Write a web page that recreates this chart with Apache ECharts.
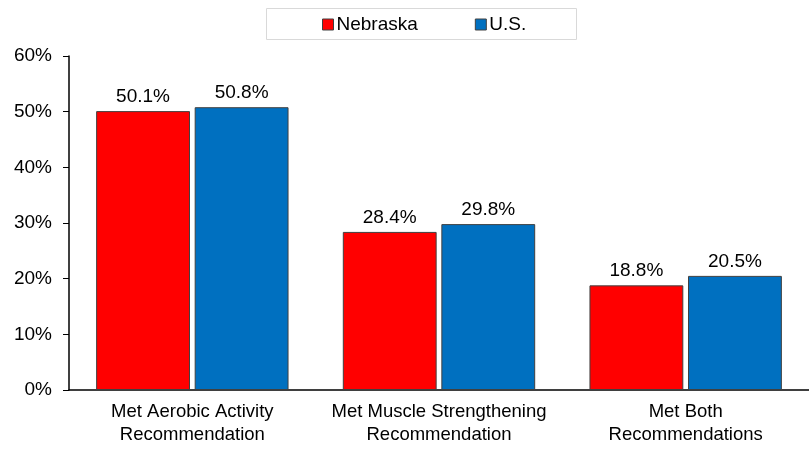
<!DOCTYPE html>
<html>
<head>
<meta charset="utf-8">
<script src="https://cdn.jsdelivr.net/npm/echarts@6/dist/echarts.min.js"></script>
<style>
  html, body { margin: 0; padding: 0; background: #fff; }
  #chart { width: 809px; height: 453px; }
</style>
</head>
<body>
<div id="chart"></div>
<script>
// Share of adults meeting physical activity guidelines, Nebraska vs. U.S.
const categories = [
  'Met Aerobic Activity\nRecommendation',
  'Met Muscle Strengthening\nRecommendation',
  'Met Both\nRecommendations'
];
const seriesNames = ['Nebraska', 'U.S.'];
const nebraska = [50.1, 28.4, 18.8];
const us = [50.8, 29.8, 20.5];
const seriesColors = ['#FF0000', '#0070C0'];

const font = 'Liberation Sans, Arial, sans-serif';

const chart = echarts.init(document.getElementById('chart'), null, { renderer: 'canvas' });

function barSeries(name, data, color) {
  return {
    name: name,
    type: 'bar',
    data: data,
    barGap: '5%',
    barCategoryGap: '22%',
    itemStyle: { color: color, borderColor: '#404040', borderWidth: 1 },
    label: {
      show: true,
      position: 'top',
      distance: 5,
      formatter: p => p.value.toFixed(1) + '%',
      color: '#000',
      fontFamily: font,
      fontSize: 19
    },
    emphasis: { disabled: true }
  };
}

chart.setOption({
  animation: false,
  // frame around the legend
  graphic: [{
    type: 'rect',
    shape: { x: 266.5, y: 8.5, width: 310, height: 31 },
    style: { fill: 'none', stroke: '#d9d9d9', lineWidth: 1 },
    silent: true
  }],
  legend: {
    top: 15,
    left: 322,
    padding: 0,
    itemGap: 57,
    itemWidth: 11,
    itemHeight: 11,
    icon: 'rect',
    itemStyle: { borderColor: '#404040', borderWidth: 1 },
    textStyle: { fontFamily: font, fontSize: 19, color: '#000', padding: [0, 0, 0, -2] },
    data: seriesNames
  },
  grid: { left: 69, right: 0, top: 56, bottom: 63, containLabel: false },
  xAxis: {
    type: 'category',
    data: categories,
    axisLine: { lineStyle: { color: '#000', width: 1.5 } },
    axisTick: { show: false },
    axisLabel: {
      interval: 0,
      hideOverlap: false,
      fontFamily: font,
      fontSize: 18.5,
      color: '#000',
      lineHeight: 23,
      margin: 10
    }
  },
  yAxis: {
    type: 'value',
    min: 0,
    max: 60,
    interval: 10,
    axisLine: { show: true, lineStyle: { color: '#000', width: 1.5 } },
    axisTick: { show: true, inside: false, length: 6, lineStyle: { color: '#000' } },
    splitLine: { show: false },
    axisLabel: {
      formatter: v => v + '%',
      fontFamily: font,
      fontSize: 19,
      color: '#000',
      margin: 17
    }
  },
  series: [
    barSeries(seriesNames[0], nebraska, seriesColors[0]),
    barSeries(seriesNames[1], us, seriesColors[1])
  ]
});
</script>
</body>
</html>
